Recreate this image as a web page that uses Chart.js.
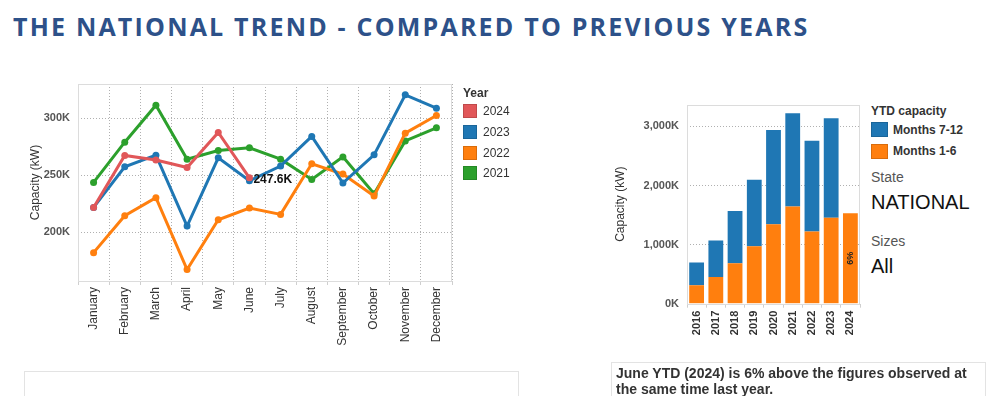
<!DOCTYPE html>
<html>
<head>
<meta charset="utf-8">
<script src="https://cdn.jsdelivr.net/npm/chart.js@4/dist/chart.umd.min.js"></script>
<style>
  body { margin: 0; background: #fff; font-family: "Liberation Sans", Arial, sans-serif; color: #333; }
  #wrap { position: relative; width: 1000px; height: 396px; overflow: hidden; }
  #titulo { position: absolute; left: 13px; top: 9px; font-family: "Open Sans", sans-serif; font-weight: 700;
            font-size: 25px; letter-spacing: 2.2px; color: #2d5189; white-space: nowrap; }
  canvas { position: absolute; }
  #grafLinhas { left: 0; top: 60px; }
  #grafBarras { left: 590px; top: 90px; }
  .leg { position: absolute; font-size: 12px; color: #333; }
  .leg .tit { font-weight: bold; height: 16px; line-height: 16px; }
  .leg .item { height: 20.7px; display: flex; align-items: center; }
  .leg .cx { width: 14px; height: 14px; margin-right: 6px; box-sizing: border-box; border: 1px solid rgba(0,0,0,0.15); }
  #legAnos { left: 463px; top: 85px; }
  #legBarras { left: 871px; top: 103px; }
  #legBarras .item { font-weight: bold; height: 21.5px; }
  #legBarras .cx { width: 17px; height: 15px; margin-right: 5px; }
  .filtro { position: absolute; left: 871px; color: #555; font-size: 14px; }
  .valor { position: absolute; left: 871px; color: #111; font-size: 20px; }
  #caixaEsq { position: absolute; left: 24px; top: 371px; width: 493px; height: 40px; border: 1px solid #e3e3e3; }
  #caixaDir { position: absolute; left: 611px; top: 362px; width: 375px; height: 45px; border: 1px solid #e3e3e3;
              font-weight: bold; font-size: 14px; line-height: 16px; color: #333; padding: 2px 0 0 4px; box-sizing: border-box; }
</style>
</head>
<body>
<div id="wrap">
  <div id="titulo">THE NATIONAL TREND - COMPARED TO PREVIOUS YEARS</div>
  <canvas id="grafLinhas" width="470" height="320"></canvas>
  <div id="legAnos" class="leg"></div>
  <canvas id="grafBarras" width="280" height="260"></canvas>
  <div id="legBarras" class="leg"></div>
  <div class="filtro" style="top:169px">State</div>
  <div class="valor" style="top:191px">NATIONAL</div>
  <div class="filtro" style="top:233px">Sizes</div>
  <div class="valor" style="top:255px">All</div>
  <div id="caixaEsq"></div>
  <div id="caixaDir">June YTD (2024) is 6% above the figures observed at the same time last year.</div>
</div>
<script>
// valores em milhares de kW (K)
var _meses = ["January", "February", "March", "April", "May", "June",
              "July", "August", "September", "October", "November", "December"];
var _anos = ["2024", "2023", "2022", "2021"];
var _cores = ["#e15759", "#1f77b4", "#ff7f0e", "#2ca02c"];

var _serie2024 = [221.6, 267.3, 263.2, 256.7, 287.4, 247.6, null, null, null, null, null, null];
var _serie2023 = [221.6, 257.3, 267.5, 205.3, 265.2, 245.0, 257.9, 284.0, 243.0, 267.8, 320.5, 308.8];
var _serie2022 = [181.9, 214.3, 230.1, 167.0, 210.8, 221.0, 215.5, 260.0, 250.9, 231.6, 286.8, 302.3];
var _serie2021 = [243.6, 278.9, 311.4, 264.0, 271.6, 274.0, 264.0, 246.2, 266.0, 233.6, 280.0, 291.5];
var _ticksLinhas = [200, 250, 300];

var _anosBarras = ["2016", "2017", "2018", "2019", "2020", "2021", "2022", "2023", "2024"];
var _meses1a6 = [313, 453, 683, 974, 1343, 1645, 1220, 1455, 1533];
var _meses7a12 = [386, 616, 884, 1124, 1595, 1578, 1539, 1684, 0];
var _ticksBarras = [0, 1000, 2000, 3000];
var _rotulo2024 = "6%";

var _fonte = "'Liberation Sans', Arial, sans-serif";
var _tabelaSeries = [_serie2024, _serie2023, _serie2022, _serie2021];

// moldura cinza em volta da area do grafico
var molduraPlugin = {
    id: "moldura",
    afterDraw: function (chart) {
        var a = chart.chartArea, ctx = chart.ctx;
        ctx.save();
        ctx.strokeStyle = "#dcdcdc";
        ctx.lineWidth = 1;
        ctx.strokeRect(Math.round(a.left) + 0.5, Math.round(a.top) + 0.5,
                       Math.round(a.right - a.left) - 1, Math.round(a.bottom - a.top));
        ctx.restore();
    }
};

function montaLegenda(_div, _titulo, _nomes, _coresLeg) {
    var html = '<div class="tit">' + _titulo + '</div>';
    _nomes.forEach(function (nome, i) {
        html += '<div class="item"><span class="cx" style="background:' + _coresLeg[i] + '"></span>' + nome + '</div>';
    });
    document.getElementById(_div).innerHTML = html;
}

function desenhaGraficoLinhas() {
    var _datasets = _anos.map(function (ano, i) {
        return {
            label: ano,
            data: _tabelaSeries[i],
            borderColor: _cores[i],
            backgroundColor: _cores[i],
            borderWidth: 3,
            pointRadius: 3.5,
            pointBorderWidth: 0,
            tension: 0,
            spanGaps: false
        };
    });

    new Chart(document.getElementById("grafLinhas"), {
        type: "line",
        data: { labels: _meses, datasets: _datasets },
        options: {
            responsive: false,
            animation: false,
            events: [],
            layout: { padding: { top: 24, right: 18, left: 0, bottom: 0 } },
            plugins: { legend: { display: false }, tooltip: { enabled: false } },
            scales: {
                x: {
                    offset: true,
                    grid: { offset: true, color: "#b0b0b0", tickLength: 4,
                            tickColor: "#cfcfcf", tickBorderDash: [], drawTicks: true },
                    border: { display: false, dash: [1, 2] },
                    ticks: { minRotation: 90, maxRotation: 90, padding: 2, color: "#333",
                             font: { family: _fonte, size: 12 } },
                    afterFit: function (s) { s.height = 99; }
                },
                y: {
                    min: 157, max: 330,
                    afterBuildTicks: function (s) { s.ticks = _ticksLinhas.map(function (v) { return { value: v }; }); },
                    grid: { color: "#b0b0b0", drawTicks: false },
                    border: { display: false, dash: [1, 2] },
                    ticks: { padding: 8, color: "#555", font: { family: _fonte, size: 11, weight: "bold" },
                             callback: function (v) { return v + "K"; } },
                    title: { display: true, text: "Capacity (kW)", color: "#333",
                             font: { family: _fonte, size: 12 }, padding: { top: 28, bottom: 0 } },
                    afterFit: function (s) { s.width = 78; }
                }
            }
        },
        plugins: [molduraPlugin, {
            id: "rotuloJunho",
            afterDatasetsDraw: function (chart) {
                var meta = chart.getDatasetMeta(0);
                var p = meta.data[5];
                var ctx = chart.ctx;
                ctx.save();
                ctx.font = "bold 12px " + _fonte;
                ctx.fillStyle = "#111";
                ctx.textAlign = "left";
                ctx.textBaseline = "middle";
                ctx.fillText(_serie2024[5].toFixed(1) + "K", p.x + 4, p.y + 2);
                ctx.restore();
            }
        }]
    });
}

function desenhaGraficoBarras() {
    new Chart(document.getElementById("grafBarras"), {
        type: "bar",
        data: {
            labels: _anosBarras,
            datasets: [
                { label: "Months 1-6", data: _meses1a6, backgroundColor: "#ff7f0e" },
                { label: "Months 7-12", data: _meses7a12, backgroundColor: "#1f77b4" }
            ]
        },
        options: {
            responsive: false,
            animation: false,
            events: [],
            layout: { padding: { top: 13, right: 10, left: 0, bottom: 0 } },
            datasets: { bar: { barPercentage: 0.77, categoryPercentage: 1.0, borderWidth: 0 } },
            plugins: { legend: { display: false }, tooltip: { enabled: false } },
            scales: {
                x: {
                    stacked: true,
                    grid: { offset: true, drawOnChartArea: false, tickLength: 4, tickColor: "#cfcfcf" },
                    border: { display: false },
                    ticks: { minRotation: 90, maxRotation: 90, padding: 3, color: "#333",
                             font: { family: _fonte, size: 11, weight: "bold" } },
                    afterFit: function (s) { s.height = 46.3; }
                },
                y: {
                    stacked: true,
                    min: 0, max: 3370,
                    afterBuildTicks: function (s) { s.ticks = _ticksBarras.map(function (v) { return { value: v }; }); },
                    grid: { color: function (c) { return c.tick && c.tick.value === 0 ? "rgba(0,0,0,0)" : "#b0b0b0"; },
                            drawTicks: false },
                    border: { display: false, dash: [1, 2] },
                    ticks: { padding: 8, color: "#555", font: { family: _fonte, size: 11, weight: "bold" },
                             callback: function (v) { return v.toLocaleString("en-US") + "K"; } },
                    title: { display: true, text: "Capacity (kW)", color: "#333",
                             font: { family: _fonte, size: 12 }, padding: { top: 23, bottom: 0 } },
                    afterFit: function (s) { s.width = 97; }
                }
            }
        },
        plugins: [molduraPlugin, {
            id: "rotulo2024",
            afterDatasetsDraw: function (chart) {
                var barra = chart.getDatasetMeta(0).data[8];
                var ctx = chart.ctx;
                ctx.save();
                ctx.translate(barra.x, (barra.y + barra.base) / 2);
                ctx.rotate(-Math.PI / 2);
                ctx.font = "bold 9px " + _fonte;
                ctx.fillStyle = "#222";
                ctx.textAlign = "center";
                ctx.textBaseline = "middle";
                ctx.fillText(_rotulo2024, 0, 0);
                ctx.restore();
            }
        }]
    });
}

montaLegenda("legAnos", "Year", _anos, _cores);
montaLegenda("legBarras", "YTD capacity", ["Months 7-12", "Months 1-6"], ["#1f77b4", "#ff7f0e"]);
desenhaGraficoLinhas();
desenhaGraficoBarras();
</script>
</body>
</html>
